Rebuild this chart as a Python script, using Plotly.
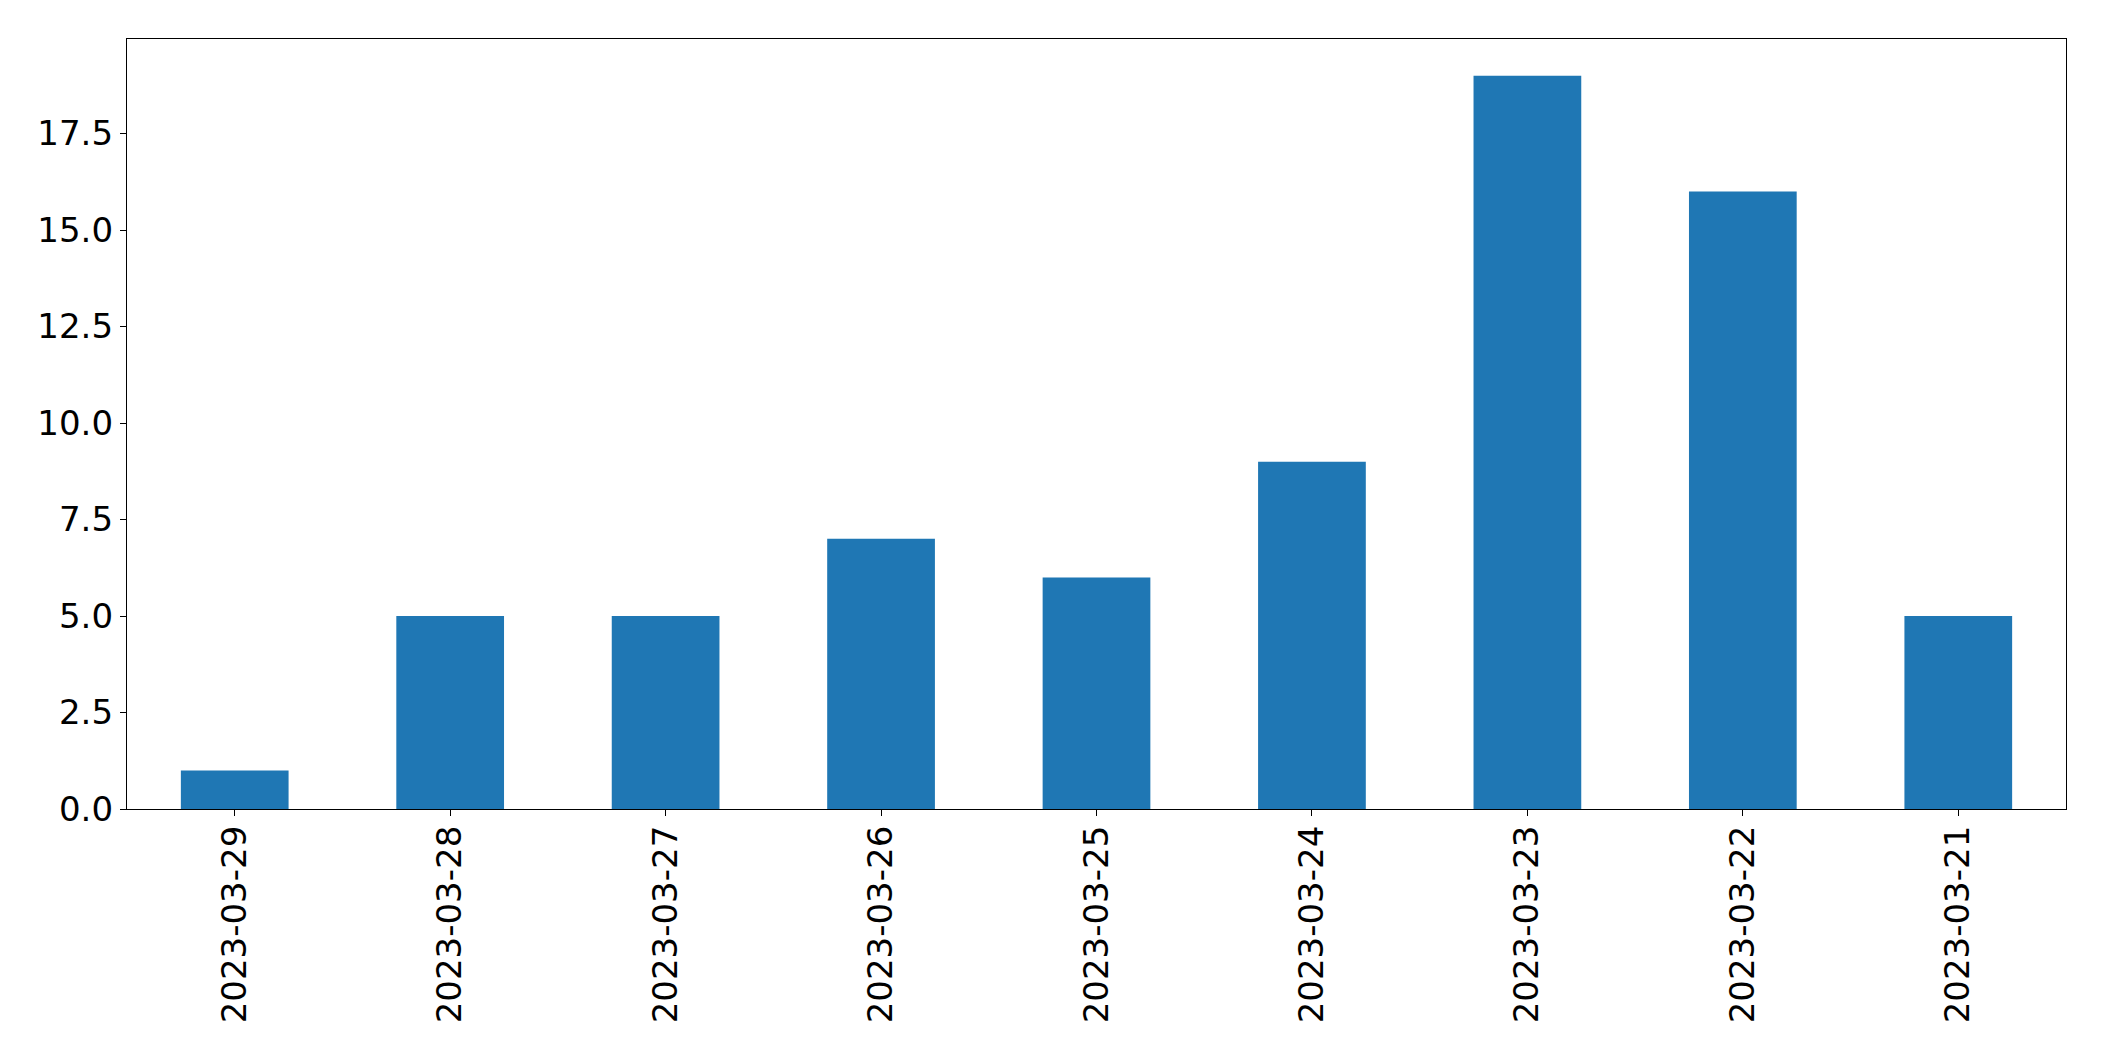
import plotly.graph_objects as go

dates = ["2023-03-29", "2023-03-28", "2023-03-27", "2023-03-26", "2023-03-25",
         "2023-03-24", "2023-03-23", "2023-03-22", "2023-03-21"]
counts = [1, 5, 5, 7, 6, 9, 19, 16, 5]

fig = go.Figure(go.Bar(x=dates, y=counts, marker=dict(color="#1f77b4", line=dict(width=0)), width=0.5))

axis_common = dict(showline=True, linecolor="black", linewidth=1.3, mirror=True,
                   ticks="outside", ticklen=6, tickwidth=1.3, tickcolor="black",
                   showgrid=False, zeroline=False,
                   tickfont=dict(family="DejaVu Sans", size=34, color="black"))

# page body has an 8px default margin, so offset the figure accordingly
fig.update_layout(
    width=2096, height=1053,
    margin=dict(l=119, r=38, t=31, b=252),
    plot_bgcolor="white", paper_bgcolor="white",
    showlegend=False,
    xaxis=dict(type="category", tickangle=-90, range=[-0.5, 8.5],
               ticklabelstandoff=-4, **axis_common),
    yaxis=dict(range=[0, 19.95], tickmode="array",
               tickvals=[0, 2.5, 5, 7.5, 10, 12.5, 15, 17.5],
               ticktext=["0.0", "2.5", "5.0", "7.5", "10.0", "12.5", "15.0", "17.5"],
               **axis_common),
)

fig.write_html("out.html")
